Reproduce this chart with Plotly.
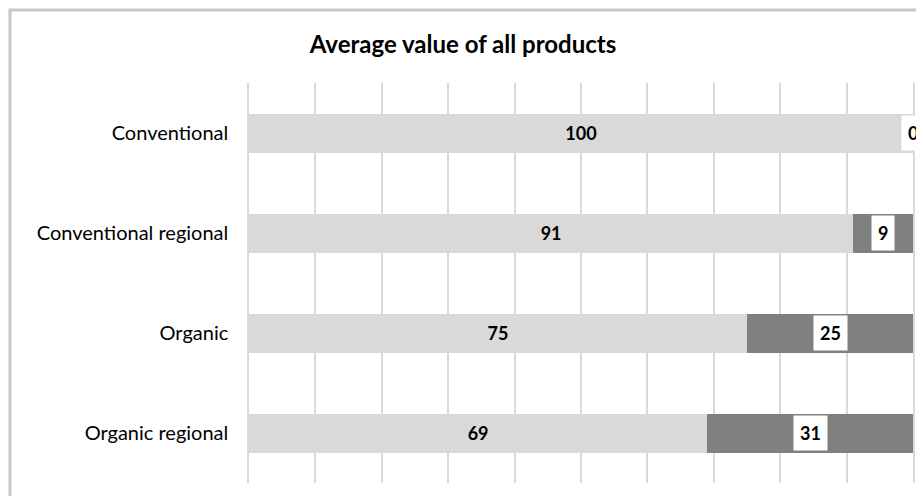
import plotly.graph_objects as go

categories = ["Conventional", "Conventional regional", "Organic", "Organic regional"]
light_values = [100, 91, 75, 69]
dark_values = [0, 9, 25, 31]

LIGHT = "#d9d9d9"
DARK = "#808080"
GRID = "#d9d9d9"
FONT = "Lato"

# The page places the figure 8px in from the top-left corner; layout is in figure pixels.
PL, PR, PT, PB = 241, 905, 75, 475
W, H = 924, 496
PW, PH = PR - PL, PB - PT

fig = go.Figure()
fig.add_trace(go.Bar(
    y=categories, x=light_values, orientation="h",
    marker=dict(color=LIGHT, line=dict(width=0)),
    text=[str(v) for v in light_values], textposition="inside",
    insidetextanchor="middle",
    textfont=dict(family=FONT, size=18, color="black", weight="bold"),
    hoverinfo="skip", showlegend=False,
))
fig.add_trace(go.Bar(
    y=categories, x=dark_values, orientation="h",
    marker=dict(color=DARK, line=dict(width=0)),
    hoverinfo="skip", showlegend=False,
))

for cat, lv, dv in zip(categories, light_values, dark_values):
    fig.add_annotation(
        x=lv + dv / 2, y=cat, xref="x", yref="y",
        text="<b>%d</b>" % dv, showarrow=False,
        font=dict(family=FONT, size=18, color="black"),
        bgcolor="white", borderpad=6,
    )

fig.add_shape(type="rect", xref="paper", yref="paper",
              x0=(2 - PL) / PW, x1=(960 - PL) / PW,
              y0=-(530 - PB) / PH, y1=1 + (PT - 2) / PH,
              line=dict(color="#c6c6c6", width=3), fillcolor="rgba(0,0,0,0)",
              layer="below")

fig.update_layout(
    width=W, height=H,
    barmode="stack", bargap=0.61,
    paper_bgcolor="white", plot_bgcolor="white",
    margin=dict(l=PL, r=W - PR, t=PT, b=H - PB),
    title=dict(text="<b>Average value of all products</b>", x=455 / W, xanchor="center",
               y=1 - 37 / H, yanchor="middle", yref="container",
               font=dict(family=FONT, size=24, color="black")),
    xaxis=dict(range=[0, 100], dtick=10, showticklabels=False, showgrid=True,
               gridcolor=GRID, gridwidth=1.5, zeroline=False, showline=False,
               fixedrange=True),
    yaxis=dict(autorange="reversed", showgrid=False, zeroline=False,
               showline=True, mirror=True, linecolor=GRID, linewidth=1.5,
               layer="below traces",
               ticks="", ticklabelstandoff=15,
               tickfont=dict(family=FONT, size=20, color="black"), fixedrange=True),
    font=dict(family=FONT),
    uniformtext=dict(minsize=8, mode="show"),
)

fig.write_html("out.html", config={"displayModeBar": False})
